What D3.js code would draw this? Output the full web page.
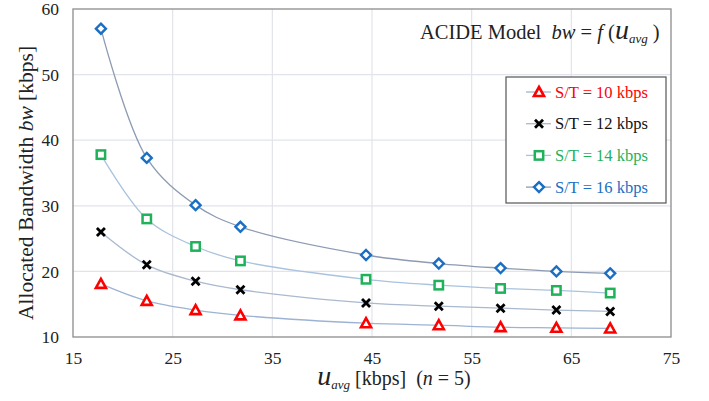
<!DOCTYPE html>
<html>
<head>
<meta charset="utf-8">
<script src="https://cdn.jsdelivr.net/npm/d3@7"></script>
<style>
  html, body { margin: 0; padding: 0; background: #fff; }
  svg text { font-family: "Liberation Serif", "Times New Roman", serif; white-space: pre; }
</style>
</head>
<body>
<svg id="chart" width="709" height="401"></svg>
<script>
// Average utilisation u_avg [kbps] at each measurement
const uAvg = [17.8, 22.4, 27.3, 31.8, 44.4, 51.7, 57.9, 63.5, 68.9];

// Allocated bandwidth [kbps] for each S/T setting
const bw10 = [18.1, 15.5, 14.1, 13.3, 12.1, 11.8, 11.5, 11.4, 11.3];
const bw12 = [26.0, 21.0, 18.5, 17.2, 15.2, 14.7, 14.4, 14.1, 13.9];
const bw14 = [37.8, 28.0, 23.8, 21.6, 18.8, 17.9, 17.4, 17.1, 16.7];
const bw16 = [57.0, 37.3, 30.1, 26.8, 22.5, 21.2, 20.5, 20.0, 19.7];

const seriesNames = ["S/T = 10 kbps", "S/T = 12 kbps", "S/T = 14 kbps", "S/T = 16 kbps"];
const xTicks = [15, 25, 35, 45, 55, 65, 75];
const yTicks = [10, 20, 30, 40, 50, 60];

const series = [
  { name: seriesNames[0], values: bw10, color: "#ff0000", line: "#9db3d3", shape: "triangle" },
  { name: seriesNames[1], values: bw12, color: "#000000", line: "#a9b9cf", shape: "cross" },
  { name: seriesNames[2], values: bw14, color: "#1fb25a", line: "#a9c3de", shape: "square" },
  { name: seriesNames[3], values: bw16, color: "#1a6fc4", line: "#8d9bb3", shape: "diamond" }
];

const svg = d3.select("#chart");
const m = { left: 73, right: 671, top: 9, bottom: 337 };

const x = d3.scaleLinear().domain([15, 75]).range([m.left, m.right]);
const y = d3.scaleLinear().domain([10, 60]).range([m.bottom, m.top]);

// gridlines
const grid = svg.append("g");
grid.selectAll("line.v").data(xTicks.slice(1, -1)).join("line")
  .attr("x1", d => x(d)).attr("x2", d => x(d))
  .attr("y1", m.top).attr("y2", m.bottom)
  .attr("stroke", "#e1e4ea").attr("stroke-width", 1.2);
grid.selectAll("line.h").data(yTicks.slice(1, -1)).join("line")
  .attr("x1", m.left).attr("x2", m.right)
  .attr("y1", d => y(d)).attr("y2", d => y(d))
  .attr("stroke", "#e1e4ea").attr("stroke-width", 1.2);

// plot frame
svg.append("rect")
  .attr("x", m.left).attr("y", m.top)
  .attr("width", m.right - m.left).attr("height", m.bottom - m.top)
  .attr("fill", "none").attr("stroke", "#8c8c8c").attr("stroke-width", 1.3);

// axes (labels only)
const xAxis = svg.append("g")
  .attr("transform", `translate(0,${m.bottom})`)
  .call(d3.axisBottom(x).tickValues(xTicks).tickSize(0).tickPadding(15));
xAxis.select(".domain").remove();
xAxis.selectAll("text").attr("font-size", 17.5).attr("fill", "#222")
  .attr("font-family", "Liberation Serif, serif");

const yAxis = svg.append("g")
  .attr("transform", `translate(${m.left},0)`)
  .call(d3.axisLeft(y).tickValues(yTicks).tickSize(0).tickPadding(14));
yAxis.select(".domain").remove();
yAxis.selectAll("text").attr("font-size", 17.5).attr("fill", "#222")
  .attr("font-family", "Liberation Serif, serif");

// lines
const lineGen = d3.line()
  .x((d, i) => x(uAvg[i]))
  .y(d => y(d))
  .curve(d3.curveCatmullRom.alpha(0.5));

svg.append("g").selectAll("path").data(series).join("path")
  .attr("d", s => lineGen(s.values))
  .attr("fill", "none")
  .attr("stroke", s => s.line)
  .attr("stroke-width", 1.3);

// markers
function drawMarker(g, shape, color, cx, cy) {
  if (shape === "triangle") {
    g.append("path")
      .attr("d", `M${cx},${cy - 5} L${cx + 5},${cy + 4} L${cx - 5},${cy + 4} Z`)
      .attr("fill", "#fff").attr("stroke", color).attr("stroke-width", 2.6)
      .attr("stroke-linejoin", "miter");
  } else if (shape === "cross") {
    g.append("path")
      .attr("d", `M${cx - 4},${cy - 4} L${cx + 4},${cy + 4} M${cx + 4},${cy - 4} L${cx - 4},${cy + 4}`)
      .attr("stroke", color).attr("stroke-width", 2.8);
  } else if (shape === "square") {
    g.append("rect")
      .attr("x", cx - 4.2).attr("y", cy - 4.2).attr("width", 8.4).attr("height", 8.4)
      .attr("fill", "#fff").attr("stroke", color).attr("stroke-width", 2.5);
  } else if (shape === "diamond") {
    g.append("path")
      .attr("d", `M${cx},${cy - 5} L${cx + 5},${cy} L${cx},${cy + 5} L${cx - 5},${cy} Z`)
      .attr("fill", "#fff").attr("stroke", color).attr("stroke-width", 2.4);
  }
}

const markers = svg.append("g");
series.forEach(s => {
  s.values.forEach((v, i) => drawMarker(markers, s.shape, s.color, x(uAvg[i]), y(v)));
});

// legend
const lg = svg.append("g");
lg.append("rect")
  .attr("x", 506).attr("y", 77).attr("width", 160).attr("height", 126)
  .attr("fill", "#fff").attr("stroke", "#555").attr("stroke-width", 1.2);
series.forEach((s, i) => {
  const ly = 92 + i * 31.7;
  lg.append("line").attr("x1", 526).attr("x2", 551).attr("y1", ly).attr("y2", ly)
    .attr("stroke", s.line).attr("stroke-width", 1.3);
  drawMarker(lg, s.shape, s.color, 539, ly);
  lg.append("text").attr("x", 555).attr("y", ly + 5.5)
    .attr("font-size", 16.5).attr("fill", s.color === "#000000" ? "#111" : s.color)
    .text(s.name);
});

// title
const title = svg.append("text").attr("x", 420).attr("y", 39).attr("font-size", 20.5).attr("fill", "#222");
title.append("tspan").text("ACIDE Model  ");
title.append("tspan").attr("font-style", "italic").text("bw");
title.append("tspan").text(" = ");
title.append("tspan").attr("font-style", "italic").text("f");
title.append("tspan").text(" (");
title.append("tspan").attr("font-style", "italic").attr("font-size", 28).text("u");
title.append("tspan").attr("font-style", "italic").attr("font-size", 13).attr("dy", 4).text("avg");
title.append("tspan").attr("dy", -4).text(" )");

// x-axis title
const xt = svg.append("text").attr("x", 394).attr("y", 385).attr("text-anchor", "middle")
  .attr("font-size", 20).attr("fill", "#222");
xt.append("tspan").attr("font-style", "italic").attr("font-size", 28).text("u");
xt.append("tspan").attr("font-style", "italic").attr("font-size", 13).attr("dy", 4).text("avg");
xt.append("tspan").attr("dy", -4).text(" [kbps]  (");
xt.append("tspan").attr("font-style", "italic").text("n");
xt.append("tspan").text(" = 5)");

// y-axis title
const yt = svg.append("text")
  .attr("transform", `translate(33,183) rotate(-90)`)
  .attr("text-anchor", "middle").attr("font-size", 21.5).attr("fill", "#222");
yt.append("tspan").text("Allocated Bandwidth ");
yt.append("tspan").attr("font-style", "italic").text("bw");
yt.append("tspan").text(" [kbps]");
</script>
</body>
</html>
